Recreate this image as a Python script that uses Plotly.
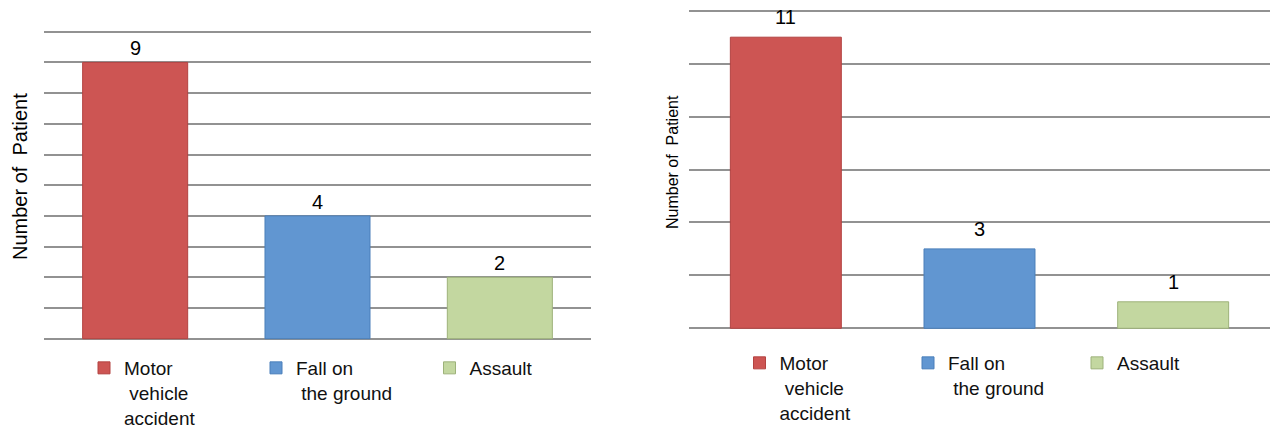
import plotly.graph_objects as go

# ---- data ----
categories = ["Motor vehicle accident", "Fall on the ground", "Assault"]
legend_labels = ["Motor<br>\u00a0vehicle<br>accident", "Fall on<br>\u00a0the ground", "Assault"]
left_values = [9, 4, 2]
right_values = [11, 3, 1]
y_title = "Number of  Patient"

colors = ["#CD5553", "#6196D1", "#C3D7A0"]
edge_colors = ["#B34341", "#4A7FBA", "#9DB27A"]

FONT = "Liberation Sans, Arial, sans-serif"
W, H = 1270, 429

fig = go.Figure()

left_leg_x = [84, 256, 429.5]
right_leg_x = [739.5, 908, 1077]

for i, cat in enumerate(categories):
    fig.add_trace(go.Bar(
        x=[cat], y=[left_values[i]], name=legend_labels[i],
        marker=dict(color=colors[i], line=dict(color=edge_colors[i], width=1)),
        width=0.576, xaxis="x", yaxis="y",
        legend="legend" if i == 0 else f"legend{i + 1}",
        hoverinfo="skip",
    ))
for i, cat in enumerate(categories):
    fig.add_trace(go.Bar(
        x=[cat], y=[right_values[i]], name=legend_labels[i],
        marker=dict(color=colors[i], line=dict(color=edge_colors[i], width=1)),
        width=0.573, xaxis="x2", yaxis="y2",
        legend=f"legend{i + 4}",
        hoverinfo="skip",
    ))

annotations = []
for i, cat in enumerate(categories):
    annotations.append(dict(x=cat, y=left_values[i], xref="x", yref="y",
                            text=str(left_values[i]), showarrow=False,
                            yanchor="bottom", yshift=1,
                            font=dict(family=FONT, size=20, color="#000")))
    annotations.append(dict(x=cat, y=right_values[i], xref="x2", yref="y2",
                            text=str(right_values[i]), showarrow=False,
                            yanchor="bottom", yshift=7,
                            font=dict(family=FONT, size=20, color="#000")))

annotations.append(dict(x=20 / W, y=1 - 177 / H, xref="paper", yref="paper",
                        text=y_title, textangle=-90, showarrow=False,
                        xanchor="center", yanchor="middle",
                        font=dict(family=FONT, size=20, color="#000")))
annotations.append(dict(x=672 / W, y=1 - 162 / H, xref="paper", yref="paper",
                        text=y_title, textangle=-90, showarrow=False,
                        xanchor="center", yanchor="middle",
                        font=dict(family=FONT, size=16, color="#000")))

grid = dict(showgrid=True, gridcolor="#929292", gridwidth=2, zeroline=False,
            showticklabels=False, ticks="", showline=False)
xcommon = dict(showgrid=False, showticklabels=False, ticks="", showline=False,
               zeroline=False, type="category")

layout = dict(
    width=W, height=H,
    margin=dict(l=0, r=0, t=0, b=0, autoexpand=False),
    paper_bgcolor="white", plot_bgcolor="white",
    barmode="overlay",
    showlegend=True,
    xaxis=dict(domain=[44 / W, 591 / W], anchor="y", **xcommon),
    yaxis=dict(domain=[1 - 340.24 / H, 1 - 30.16 / H], range=[-0.05, 10.05], dtick=1,
               tick0=0, anchor="x", **grid),
    xaxis2=dict(domain=[689 / W, 1.0], anchor="y2", **xcommon),
    yaxis2=dict(domain=[1 - 329.6 / H, 1 - 9.4 / H], range=[-0.05, 12.05], dtick=2,
                tick0=0, anchor="x2", **grid),
    annotations=annotations,
)

legfont = dict(family=FONT, size=19, color="#111")
for i in range(6):
    key = "legend" if i == 0 else f"legend{i + 1}"
    if i < 3:
        lx, ly = left_leg_x[i], 349
    else:
        lx, ly = right_leg_x[i - 3], 344
    layout[key] = dict(x=lx / W, y=1 - ly / H, xanchor="left", yanchor="top",
                       orientation="v", valign="top", font=legfont,
                       bgcolor="rgba(0,0,0,0)", borderwidth=0, visible=True,
                       tracegroupgap=0, itemclick=False, itemdoubleclick=False)

fig.update_layout(**layout)
fig.write_html("out.html",
               config={"displayModeBar": False},
               post_script="document.body.style.margin='0';document.body.style.overflow='hidden';")
